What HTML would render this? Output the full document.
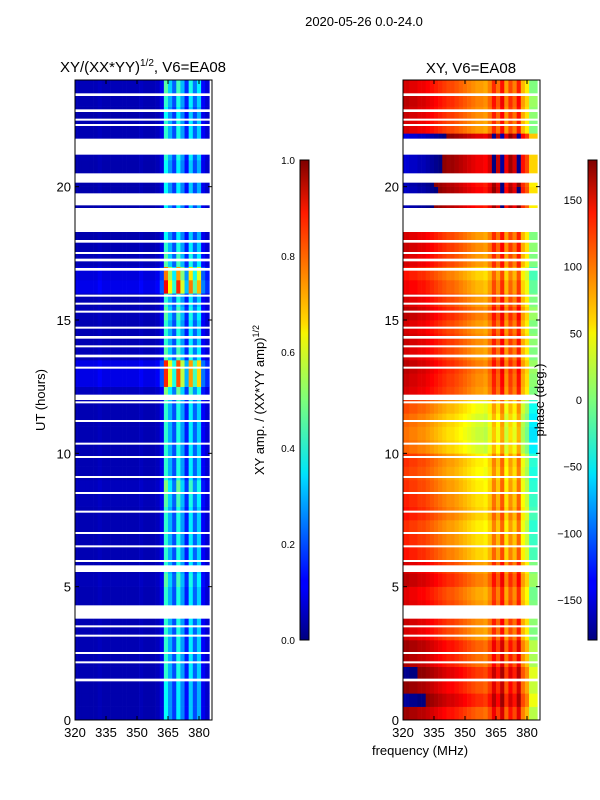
<!DOCTYPE html>
<html><head><meta charset="utf-8">
<style>
body{margin:0;background:#fff;font-family:"Liberation Sans",sans-serif;}
#wrap{position:relative;width:600px;height:800px;overflow:hidden;}
svg text{font-family:"Liberation Sans",sans-serif;}
</style></head>
<body>
<div id="wrap">
<svg id="fig" width="600" height="800" xmlns="http://www.w3.org/2000/svg">
<defs>
<linearGradient id="jet" x1="0" y1="1" x2="0" y2="0">
<stop offset="0" stop-color="#00007f"/><stop offset="0.11" stop-color="#0000ff"/>
<stop offset="0.125" stop-color="#0000ff"/><stop offset="0.34" stop-color="#00dbff"/>
<stop offset="0.35" stop-color="#00e5f7"/><stop offset="0.5" stop-color="#7dff7a"/>
<stop offset="0.64" stop-color="#f7f500"/><stop offset="0.66" stop-color="#ffdb00"/>
<stop offset="0.89" stop-color="#ff1a00"/><stop offset="1" stop-color="#7f0000"/>
</linearGradient>
</defs>
<text x="364" y="26" font-size="13" text-anchor="middle">2020-05-26 0.0-24.0</text>
<text x="143" y="72" font-size="15" text-anchor="middle">XY/(XX*YY)<tspan font-size="10" dy="-6">1/2</tspan><tspan dy="6">, V6=EA08</tspan></text>
<text x="471" y="73" font-size="15" text-anchor="middle">XY, V6=EA08</text>
<g id="left"></g>
<g id="right"></g>
<g id="axes"></g>
<rect x="300" y="160" width="9" height="480" fill="url(#jet)" stroke="#000" stroke-width="1"/>
<rect x="588" y="160" width="9" height="480" fill="url(#jet)" stroke="#000" stroke-width="1"/>
<text transform="translate(264,400) rotate(-90)" font-size="13" text-anchor="middle">XY amp. / (XX*YY amp)<tspan font-size="9" dy="-5">1/2</tspan></text>
<text transform="translate(544,400) rotate(-90)" font-size="13" text-anchor="middle">phase (deg.)</text>
<text transform="translate(45,400) rotate(-90)" font-size="13" text-anchor="middle">UT (hours)</text>
<text x="420" y="755" font-size="13" text-anchor="middle">frequency (MHz)</text>
</svg>
</div>
<script>
const freqs=[320,322,324,326,328,330,332,334,336,338,340,342,344,346,348,350,352,354,356,358,360,362,364,366,368,370,372,374,376,378,380,382,384];
const ampCol=[0.05,0.05,0.05,0.05,0.05,0.05,0.06,0.05,0.05,0.05,0.05,0.05,0.05,0.05,0.05,0.05,0.06,0.05,0.05,0.05,0.06,0.1,0.42,0.3,0.2,0.4,0.28,0.15,0.36,0.22,0.33,0.12,0.08];
const ampRow=[0.9,0.9,0.9,1,1,1,1,1,1,1,1.1,1,1,1,1,1,1.1,1.2,1,1,1,1,1,1,1.2,2.0,2.0,1.1,1,1,1.1,1,2.1,1.8,1.1,1,0.9,0.9,0.9,0.9,0.9,0.9,1,1,1,0.9,1,1.1];
const rowPhase=[170,-170,175,-175,165,170,150,155,150,145,160,150,130,125,120,130,125,120,115,120,100,95,100,110,150,155,160,150,155,150,160,150,140,130,150,155,150,145,-160,-155,-160,-150,-150,-145,150,155,160,150];
const colPhase=[0,0,-5,-5,-10,-10,-15,-20,-25,-30,-35,-40,-40,-45,-50,-55,-60,-65,-70,-70,-75,-60,-30,-55,-20,-70,-40,-60,-25,-80,-100,-150,-150];
const gaps=[[23.4,23.5],[22.8,22.9],[22.5,22.55],[22.3,22.35],[21.8,21.2],[20.5,20.15],[19.75,19.3],[19.2,18.3],[17.9,18.0],[17.5,17.55],[17.2,17.3],[16.85,16.95],[15.9,15.95],[15.6,15.65],[15.3,15.35],[14.7,14.75],[14.3,14.4],[14.0,14.05],[13.6,13.7],[13.2,13.25],[12.0,12.2],[11.9,11.95],[11.2,11.25],[10.35,10.4],[9.85,9.9],[9.1,9.15],[8.5,8.55],[7.8,7.85],[7.0,7.05],[6.5,6.55],[5.95,6.0],[5.55,5.8],[3.8,4.3],[3.5,3.55],[3.15,3.2],[2.5,2.55],[2.15,2.2],[1.45,1.55]];
const xTicks=[320,335,350,365,380];
const yTicks=[0,5,10,15,20];
const ampTicks=["0.0","0.2","0.4","0.6","0.8","1.0"];
const phaseTicks=[-150,-100,-50,0,50,100,150];

const NS='http://www.w3.org/2000/svg';
const T0=720,PXH=640/24,F0=320,PXF=(199-75)/60;
function ty(t){return T0-t*PXH;}
function fx(x0,f){return x0+(f-F0)*PXF;}
function jet(v){v=Math.max(0,Math.min(1,v));
 const r=Math.min(4*v-1.5,-4*v+4.5),g=Math.min(4*v-0.5,-4*v+3.5),b=Math.min(4*v+0.5,-4*v+2.5);
 const c=x=>Math.round(255*Math.max(0,Math.min(1,x)));return `rgb(${c(r)},${c(g)},${c(b)})`;}
function wrap(p){while(p>180)p-=360;while(p<-180)p+=360;return p;}
function mk(tag,attrs,parent){const e=document.createElementNS(NS,tag);for(const k in attrs)e.setAttribute(k,attrs[k]);parent.appendChild(e);return e;}

function panel(gid,x0,valFn){
 const g=document.getElementById(gid);
 const dh=24/ampRow.length;
 for(let r=0;r<ampRow.length;r++){
  for(let c=0;c<freqs.length;c++){
   const xa=Math.max(x0,fx(x0,freqs[c]-1)),xb=Math.min(x0+137,fx(x0,freqs[c]+1));
   const e=mk('rect',{x:xa.toFixed(2),y:ty((r+1)*dh).toFixed(2),width:(xb-xa+0.3).toFixed(2),height:(PXH*dh+0.3).toFixed(2),fill:valFn(r,c)},g);
   
   
  }
 }
 gaps.forEach(gp=>{
  const a=Math.min(gp[0],gp[1]),b=Math.max(gp[0],gp[1]);
  const e=mk('rect',{x:x0,y:ty(b),width:137,height:Math.max(2,(b-a)*PXH),fill:'#fff'},g);
  
  
 });
}
panel('left',75,(r,c)=>jet(ampCol[c]*ampRow[r]));
panel('right',403,(r,c)=>jet((wrap(rowPhase[r]+colPhase[c])+180)/360));

const ax=document.getElementById('axes');
[75,403].forEach((x0,i)=>{
 const f=mk('rect',{x:x0,y:80,width:137,height:640,fill:'none',stroke:'#000','stroke-width':1},ax);
 
 
 xTicks.forEach(v=>{const x=fx(x0,v);
  mk('line',{x1:x,x2:x,y1:720,y2:716,stroke:'#000'},ax);mk('line',{x1:x,x2:x,y1:80,y2:84,stroke:'#000'},ax);
  const t=mk('text',{x:x,y:737,'font-size':13,'text-anchor':'middle'},ax);t.textContent=v;
  
  });
 yTicks.forEach(v=>{const y=ty(v);
  mk('line',{x1:x0,x2:x0+4,y1:y,y2:y,stroke:'#000'},ax);mk('line',{x1:x0+137,x2:x0+133,y1:y,y2:y,stroke:'#000'},ax);
  const t=mk('text',{x:x0-4,y:y+5,'font-size':13,'text-anchor':'end'},ax);t.textContent=v;
  
  });
});
ampTicks.forEach((v,i)=>{const y=640-i*96;
 mk('line',{x1:309,x2:305,y1:y,y2:y,stroke:'#000'},ax);
 const t=mk('text',{x:295,y:y+4,'font-size':10,'text-anchor':'end'},ax);t.textContent=v;
 
 });
phaseTicks.forEach(v=>{const y=400-v*480/360;
 mk('line',{x1:597,x2:593,y1:y,y2:y,stroke:'#000'},ax);
 const t=mk('text',{x:582,y:y+4,'font-size':11,'text-anchor':'end'},ax);t.textContent=(v<0?'\u2212'+(-v):v);
 
 });
</script>
</body></html>
